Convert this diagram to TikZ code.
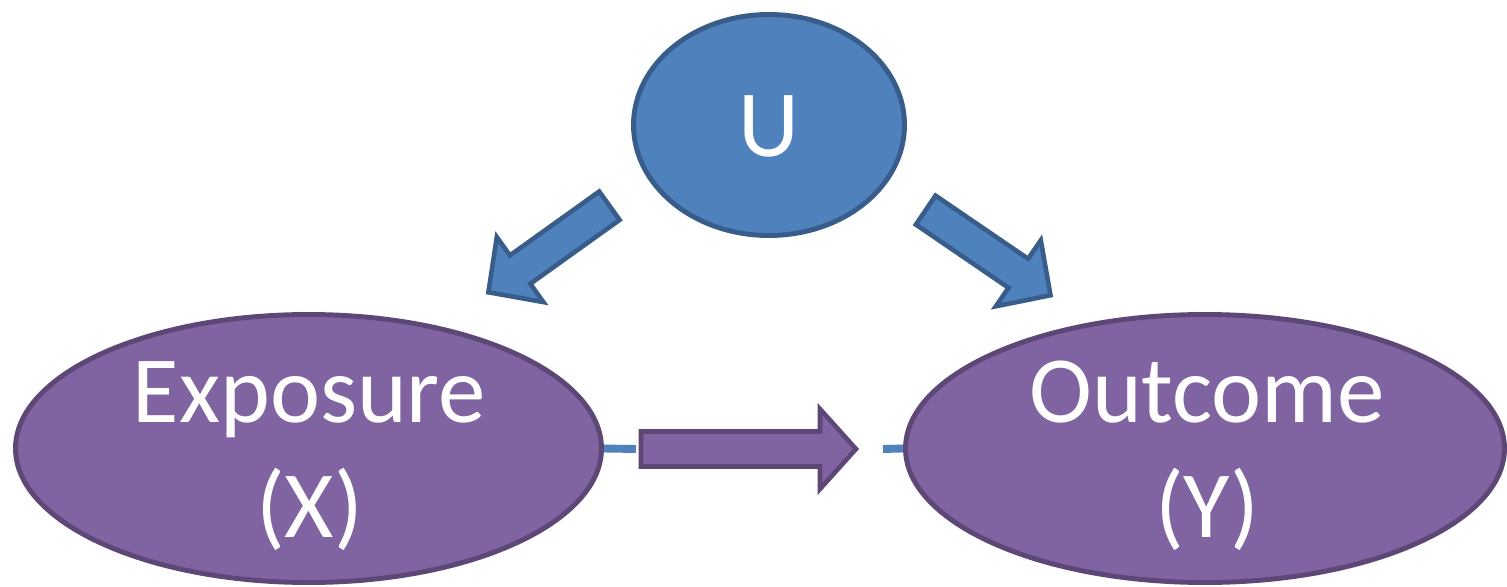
\documentclass[tikz,border=0pt]{standalone}
\usepackage{fontspec}
\setmainfont{Carlito}
\usetikzlibrary{shapes.geometric}
\definecolor{ublue}{HTML}{4F81BD}
\definecolor{ubluedk}{HTML}{385D8A}
\definecolor{upurple}{HTML}{8064A2}
\definecolor{upurpledk}{HTML}{5C4776}
\begin{document}
\begin{tikzpicture}[x=0.02cm,y=-0.02cm,
  ellp/.style={ellipse, draw=upurpledk, fill=upurple, line width=2.8pt, inner sep=0pt},
  ellb/.style={ellipse, draw=ubluedk, fill=ublue, line width=2.8pt, inner sep=0pt},
  lbl/.style={text=white, font=\fontsize{54}{64}\selectfont, inner sep=0pt, anchor=base},
  barrow/.style={draw=ubluedk, fill=ublue, line width=2.6pt, line join=miter},
  parrow/.style={draw=upurpledk, fill=upurple, line width=2.6pt, line join=miter},
  conn/.style={draw=ublue, line width=4.5pt}]
\useasboundingbox (0,0) rectangle (1507,587);
% nodes
\node[ellb, minimum width=271*0.02cm, minimum height=221*0.02cm] (u) at (769,125) {};
\node[ellp, minimum width=586*0.02cm, minimum height=268*0.02cm] (ex) at (308.5,448.5) {};
\node[ellp, minimum width=599*0.02cm, minimum height=268*0.02cm] (out) at (1205,448.5) {};
\node[lbl] (ut) at (769,157) {U};
\node[lbl] (ext1) at (309.5,422) {Exposure};
\node[lbl] (ext2) at (309.5,537) {(X)};
\node[lbl] (outt1) at (1207,422) {Outcome};
\node[lbl] (outt2) at (1207,537) {(Y)};
% connector stubs
\coordinate (c1) at (636,449);
\coordinate (c2) at (883,449);
\draw[conn] (ex.east) -- (c1);
\draw[conn] (c2) -- (out.west);
% block arrows
\draw[parrow] (641,431.5) -- (820,431.5) -- (820,409) -- (856,449) -- (820,489) -- (820,466.5) -- (641,466.5) -- cycle;
\draw[barrow] (619.6,219.9) -- (599.2,191.5) -- (509.9,255.4) -- (496.8,237.1) -- (488.4,292.3) -- (543.4,302.1) -- (530.3,283.8) -- cycle;
\draw[barrow] (935.5,195.6) -- (915.9,224.6) -- (1008.5,287.8) -- (995.8,306.3) -- (1050.5,295.3) -- (1040.8,240.3) -- (1028.1,258.8) -- cycle;
\end{tikzpicture}
\end{document}
